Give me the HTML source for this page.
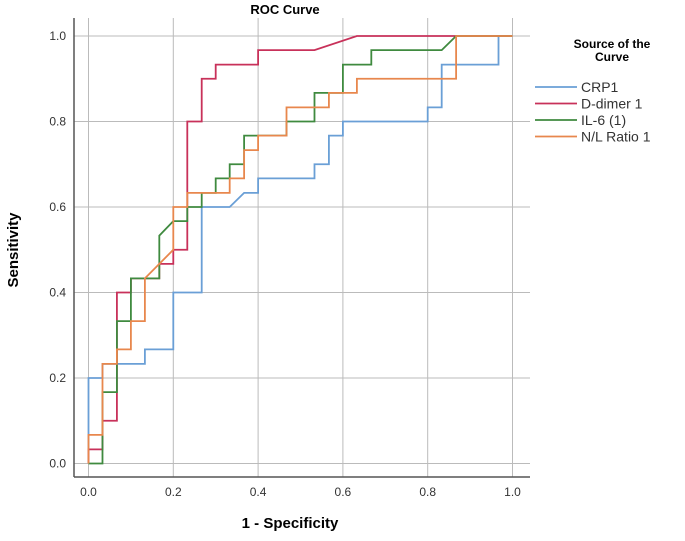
<!DOCTYPE html>
<html><head><meta charset="utf-8"><style>
body{margin:0;background:#fff;width:685px;height:536px;overflow:hidden}
text{font-family:"Liberation Sans",sans-serif}
</style></head><body>
<svg width="685" height="536">
<text x="285" y="14" font-size="13" font-weight="bold" text-anchor="middle">ROC Curve</text>
<g id="grid"></g>
<g id="series"></g>
<line x1="74" y1="18" x2="74" y2="477" stroke="#555" stroke-width="1.5"/>
<line x1="74" y1="477" x2="530" y2="477" stroke="#555" stroke-width="1.5"/>
<g id="ticks"></g>
<text x="290" y="528" font-size="15" font-weight="bold" text-anchor="middle">1 - Specificity</text>
<text transform="translate(18,250) rotate(-90)" font-size="15" font-weight="bold" text-anchor="middle">Sensitivity</text>
<g>
<text x="612" y="48" font-size="12" font-weight="bold" text-anchor="middle">Source of the</text>
<text x="612" y="61" font-size="12" font-weight="bold" text-anchor="middle">Curve</text>
<g id="legend"></g>
</g>
</svg>
<script>
const ticks=[0,0.2,0.4,0.6,0.8,1.0];
const tickLabels=["0.0","0.2","0.4","0.6","0.8","1.0"];
const seriesNames=["CRP1","D-dimer 1","IL-6 (1)","N/L Ratio 1"];
const seriesColors=["#6a9fd6","#c8315a","#3f8a3f","#e8874d"];
const crpX=[0,0,0.033,0.033,0.133,0.133,0.2,0.2,0.267,0.267,0.333,0.367,0.4,0.4,0.533,0.533,0.567,0.567,0.6,0.6,0.8,0.8,0.833,0.833,0.967,0.967,1];
const crpY=[0,0.2,0.2,0.233,0.233,0.267,0.267,0.4,0.4,0.6,0.6,0.633,0.633,0.667,0.667,0.7,0.7,0.767,0.767,0.8,0.8,0.833,0.833,0.933,0.933,1,1];
const ddX=[0,0,0.033,0.033,0.067,0.067,0.1,0.1,0.167,0.167,0.2,0.2,0.233,0.233,0.267,0.267,0.3,0.3,0.4,0.4,0.533,0.633,1];
const ddY=[0,0.033,0.033,0.1,0.1,0.4,0.4,0.433,0.433,0.467,0.467,0.5,0.5,0.8,0.8,0.9,0.9,0.933,0.933,0.967,0.967,1,1];
const ilX=[0,0,0.033,0.033,0.067,0.067,0.1,0.1,0.167,0.167,0.2,0.233,0.233,0.267,0.267,0.3,0.3,0.333,0.333,0.367,0.367,0.467,0.467,0.533,0.533,0.6,0.6,0.667,0.667,0.833,0.867,1];
const ilY=[0,0,0,0.167,0.167,0.333,0.333,0.433,0.433,0.533,0.567,0.567,0.6,0.6,0.633,0.633,0.667,0.667,0.7,0.7,0.767,0.767,0.8,0.8,0.867,0.867,0.933,0.933,0.967,0.967,1,1];
const nlX=[0,0,0.033,0.033,0.067,0.067,0.1,0.1,0.133,0.133,0.167,0.2,0.2,0.233,0.233,0.333,0.333,0.367,0.367,0.4,0.4,0.467,0.467,0.567,0.567,0.633,0.633,0.867,0.867,1];
const nlY=[0,0.067,0.067,0.233,0.233,0.267,0.267,0.333,0.333,0.433,0.467,0.5,0.6,0.6,0.633,0.633,0.667,0.667,0.733,0.733,0.767,0.767,0.833,0.833,0.867,0.867,0.9,0.9,1,1];
const seriesX=[crpX,ddX,ilX,nlX];
const seriesY=[crpY,ddY,ilY,nlY];
const NS="http://www.w3.org/2000/svg";
const sx=v=>88.5+v*424, sy=v=>463.5-v*427.5;
const grid=document.getElementById('grid'),tk=document.getElementById('ticks');
ticks.forEach((t,i)=>{
 let l=document.createElementNS(NS,'line');
 
 
 l.setAttribute('x1',sx(t));l.setAttribute('x2',sx(t));l.setAttribute('y1',18);l.setAttribute('y2',477);
 l.setAttribute('stroke','#bbb');grid.appendChild(l);
 let h=document.createElementNS(NS,'line');
 
 
 h.setAttribute('x1',74);h.setAttribute('x2',530);h.setAttribute('y1',sy(t));h.setAttribute('y2',sy(t));
 h.setAttribute('stroke','#bbb');grid.appendChild(h);
 let a=document.createElementNS(NS,'text');
 
 
 a.setAttribute('x',sx(t));a.setAttribute('y',496);a.setAttribute('font-size','12');a.setAttribute('text-anchor','middle');a.setAttribute('fill','#333');
 a.textContent=tickLabels[i];tk.appendChild(a);
 let b=document.createElementNS(NS,'text');
 
 
 b.setAttribute('x',66);b.setAttribute('y',sy(t)+4);b.setAttribute('font-size','12');b.setAttribute('text-anchor','end');b.setAttribute('fill','#333');
 b.textContent=tickLabels[i];tk.appendChild(b);
});
const sg=document.getElementById('series'),lg=document.getElementById('legend');
seriesX.forEach((xs,i)=>{
 let p=document.createElementNS(NS,'polyline');
 
 
 p.setAttribute('points',xs.map((x,j)=>sx(x)+','+sy(seriesY[i][j])).join(' '));
 p.setAttribute('fill','none');p.setAttribute('stroke',seriesColors[i]);p.setAttribute('stroke-width','1.8');
 sg.appendChild(p);
 let y=87+i*16.5;
 let l=document.createElementNS(NS,'line');
 
 
 l.setAttribute('x1',535);l.setAttribute('x2',577);l.setAttribute('y1',y);l.setAttribute('y2',y);
 l.setAttribute('stroke',seriesColors[i]);l.setAttribute('stroke-width','1.8');lg.appendChild(l);
 let t=document.createElementNS(NS,'text');
 
 
 t.setAttribute('x',581);t.setAttribute('y',y+5);t.setAttribute('font-size','14');t.setAttribute('fill','#333');
 t.textContent=seriesNames[i];lg.appendChild(t);
});
</script>
</body></html>
